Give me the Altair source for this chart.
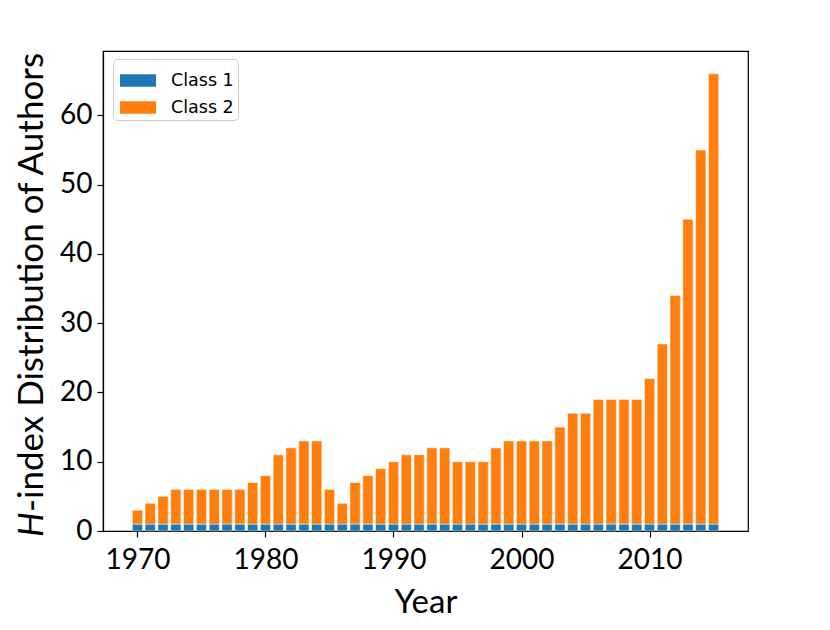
import altair as alt
import pandas as pd

years = list(range(1970, 2016))
class1 = [1] * 46
class2 = [2, 3, 4, 5, 5, 5, 5, 5, 5, 6,
          7, 10, 11, 12, 12, 5, 3, 6, 7, 8,
          9, 10, 10, 11, 11, 9, 9, 9, 11, 12,
          12, 12, 12, 14, 16, 16, 18, 18, 18, 18,
          21, 26, 33, 44, 54, 65]
series_names = ["Class 1", "Class 2"]
series_colors = ["#1f77b4", "#ff7f0e"]
x_ticks = [1970, 1980, 1990, 2000, 2010]
y_ticks = [0, 10, 20, 30, 40, 50, 60]

rows = []
for i, yr in enumerate(years):
    rows.append({"year": yr, "series": "Class 1", "value": class1[i], "order": 0})
    rows.append({"year": yr, "series": "Class 2", "value": class2[i], "order": 1})
df = pd.DataFrame(rows)

FONT = "Lato"

bars = alt.Chart(df).transform_stack(
    stack="value", groupby=["year"], as_=["y0", "y1"], sort=[alt.SortField("order")]
).transform_calculate(
    x0="datum.year - 0.4", x1="datum.year + 0.4"
).mark_bar(stroke="white", strokeWidth=0.8, strokeOpacity=0.6).encode(
    x=alt.X("x0:Q", scale=alt.Scale(domain=[1967.31, 2017.69], nice=False, zero=False),
            axis=alt.Axis(values=x_ticks, format="d", title="Year", grid=False,
                          tickSize=6, labelPadding=9, labelFontSize=28, labelFont=FONT,
                          titleFont=FONT, titleFontSize=33, titleFontWeight="normal",
                          titlePadding=12, labelColor="black", titleColor="black",
                          domainColor="black", tickColor="black", domainWidth=1.2,
                          tickWidth=1.2, labelFlush=False)),
    x2="x1:Q",
    y=alt.Y("y0:Q", scale=alt.Scale(domain=[0, 69.3], nice=False),
            axis=alt.Axis(values=y_ticks, title=None, grid=False, tickSize=6,
                          labelPadding=5, labelFontSize=28, labelFont=FONT,
                          labelColor="black", domainColor="black", tickColor="black",
                          domainWidth=1.2, tickWidth=1.2, labelFlush=False)),
    y2="y1:Q",
    color=alt.Color("series:N", scale=alt.Scale(domain=series_names, range=series_colors),
                    legend=alt.Legend(title=None, orient="none", legendX=10, legendY=8,
                                      fillColor="rgba(255,255,255,0.8)", strokeColor="#cccccc",
                                      cornerRadius=4, padding=3.5, symbolOffset=3.5,
                                      symbolType="M-1,-0.352H1V0.352H-1Z", symbolSize=1296,
                                      symbolStrokeWidth=0, symbolOpacity=1,
                                      labelFont="DejaVu Sans", labelFontSize=17.5,
                                      labelColor="black", labelOffset=15, rowPadding=0)),
)

t_h = alt.Chart(pd.DataFrame({"t": ["H"]})).mark_text(
    angle=270, align="left", baseline="alphabetic", font=FONT, fontSize=35,
    fontStyle="italic", color="black"
).encode(x=alt.value(-60), y=alt.value(486), text="t:N")

t_rest = alt.Chart(pd.DataFrame({"t": ["-index Distribution of Authors"]})).mark_text(
    angle=270, align="left", baseline="alphabetic", font=FONT, fontSize=35,
    color="black", dx=25
).encode(x=alt.value(-60), y=alt.value(486), text="t:N")

chart = alt.layer(bars, t_h, t_rest).properties(
    width=645, height=480,
    background="white",
    autosize=alt.AutoSizeParams(type="none"),
    padding={"left": 95, "top": 43, "right": 60, "bottom": 96},
).configure_view(stroke="black", strokeWidth=1.2)

chart.save("out.html", embed_options={"renderer": "svg", "actions": False})
